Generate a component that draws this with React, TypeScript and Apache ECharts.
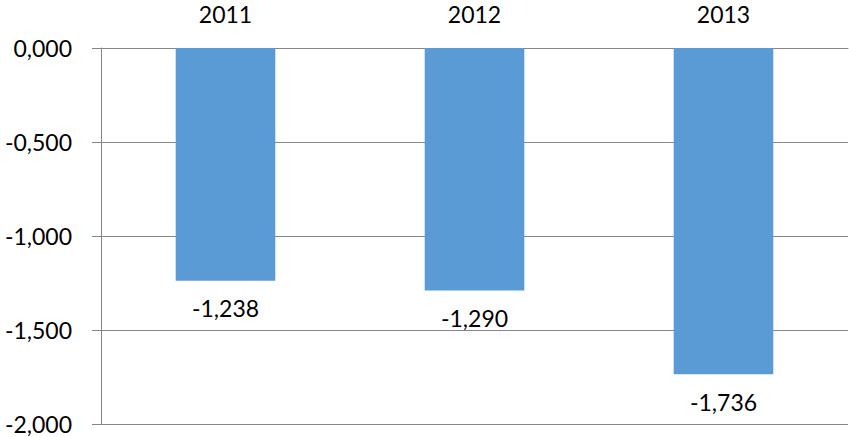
import React, { useEffect, useRef } from "react";
import * as echarts from "echarts";

const categories = ["2011", "2012", "2013"];
const values = [-1.238, -1.29, -1.736];
const yMin = -2;
const yMax = 0;
const yStep = 0.5;

const fmt = (v: number) => v.toFixed(3).replace(".", ",");

export default function App() {
  const ref = useRef<HTMLDivElement>(null);
  useEffect(() => {
    if (!ref.current) return;
    const chart = echarts.init(ref.current, null, { renderer: "svg" });
    const font = "Lato, 'Open Sans', sans-serif";
    chart.setOption({
      animation: false,
      backgroundColor: "#ffffff",
      grid: { left: 101, right: 1, top: 48, bottom: 13, containLabel: false },
      xAxis: {
        type: "category",
        data: categories,
        position: "top",
        axisLine: { show: true, onZero: false, lineStyle: { color: "#878787", width: 1 } },
        axisTick: { show: false },
        axisLabel: { color: "#000", fontFamily: font, fontSize: 23, margin: 23, lineHeight: 23 },
        splitLine: { show: false },
      },
      yAxis: {
        type: "value",
        min: yMin,
        max: yMax,
        interval: yStep,
        axisLine: { show: true, lineStyle: { color: "#878787", width: 1 } },
        axisTick: { show: true, length: 9, lineStyle: { color: "#878787" } },
        axisLabel: {
          color: "#000",
          fontFamily: font,
          fontSize: 23,
          margin: 29,
          formatter: (v: number) => fmt(v),
        },
        splitLine: { show: true, lineStyle: { color: "#878787", width: 1 } },
      },
      series: [
        {
          type: "bar",
          data: values,
          barWidth: "40%",
          itemStyle: { color: "#5B9BD5" },
          label: {
            show: true,
            position: "bottom",
            distance: 16,
            color: "#000",
            fontFamily: font,
            fontSize: 23,
            formatter: (p: any) => fmt(p.value),
          },
        },
      ],
    });
    return () => chart.dispose();
  }, []);
  return (
    <div
      ref={ref}
      style={{ position: "fixed", left: 0, top: 0, width: 849, height: 437 }}
    />
  );
}
